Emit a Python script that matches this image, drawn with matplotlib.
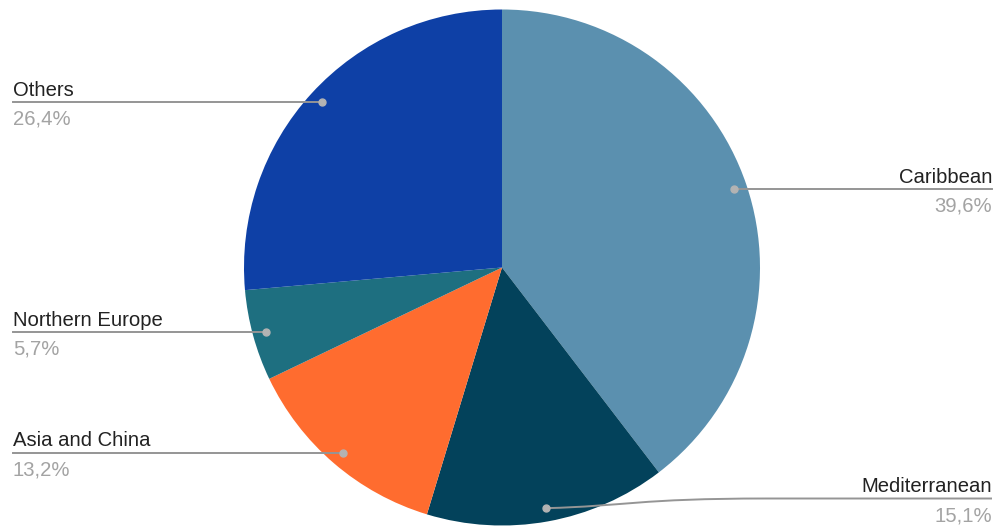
import matplotlib
matplotlib.use('Agg')
import matplotlib.pyplot as plt
import numpy as np
from matplotlib.patches import Wedge, PathPatch
from matplotlib.path import Path

# shares of cruise destinations, clockwise from 12 o'clock
regions = ['Caribbean', 'Mediterranean', 'Asia and China', 'Northern Europe', 'Others']
shares = [39.6, 15.1, 13.2, 5.7, 26.4]
pct_labels = ['39,6%', '15,1%', '13,2%', '5,7%', '26,4%']
colors = ['#5b90af', '#03425b', '#ff6c2f', '#1e6f80', '#0e40a6']

plt.rcParams['font.family'] = ['Liberation Sans', 'DejaVu Sans']

fig = plt.figure(figsize=(10, 5.3), dpi=100)
ax = fig.add_axes([0, 0, 1, 1])
ax.set_xlim(0, 1000)
ax.set_ylim(530, 0)
ax.set_aspect('equal')
ax.axis('off')

cx, cy, r = 502, 267.5, 258
total = sum(shares)
start = 90.0
mids = []
for s, c in zip(shares, colors):
    sweep = s / total * 360
    a1 = start - sweep
    # y axis is flipped, so negate the angles
    ax.add_patch(Wedge((cx, cy), r, -start, -a1, facecolor=c, linewidth=0))
    mids.append(np.radians(start - sweep / 2))
    start = a1

# label layout
side = {'Caribbean': 'right', 'Mediterranean': 'right', 'Asia and China': 'left',
        'Northern Europe': 'left', 'Others': 'left'}
med_line_y = 498.5

line_col = '#959595'
for name, pct, m in zip(regions, pct_labels, mids):
    dx = cx + 0.948 * r * np.cos(m)
    dy = cy - 0.948 * r * np.sin(m)
    ly = dy
    if side[name] == 'left':
        ax.plot([13, dx], [dy, dy], color=line_col, lw=1.4, zorder=3)
        tx, ha = 13, 'left'
    else:
        tx, ha = 992, 'right'
        if name == 'Mediterranean':
            ly = med_line_y
            x2 = 767
            verts = [(dx, dy), (dx + 80, dy - 2), (x2 - 130, ly), (x2, ly), (992, ly)]
            codes = [Path.MOVETO, Path.CURVE4, Path.CURVE4, Path.CURVE4, Path.LINETO]
            ax.add_patch(PathPatch(Path(verts, codes), fill=False, edgecolor=line_col,
                                   lw=1.4, zorder=3))
        else:
            ax.plot([dx, 992], [dy, dy], color=line_col, lw=1.4, zorder=3)
    ax.plot(dx, dy, 'o', ms=5, color='#b3b3b3', zorder=4)
    ax.text(tx, ly - 6.5, name, ha=ha, va='baseline', fontsize=14.6, color='#222222')
    ax.text(tx, ly + 22.5, pct, ha=ha, va='baseline', fontsize=14.6, color='#a3a3a3')

fig.savefig('out.png', dpi=100)
